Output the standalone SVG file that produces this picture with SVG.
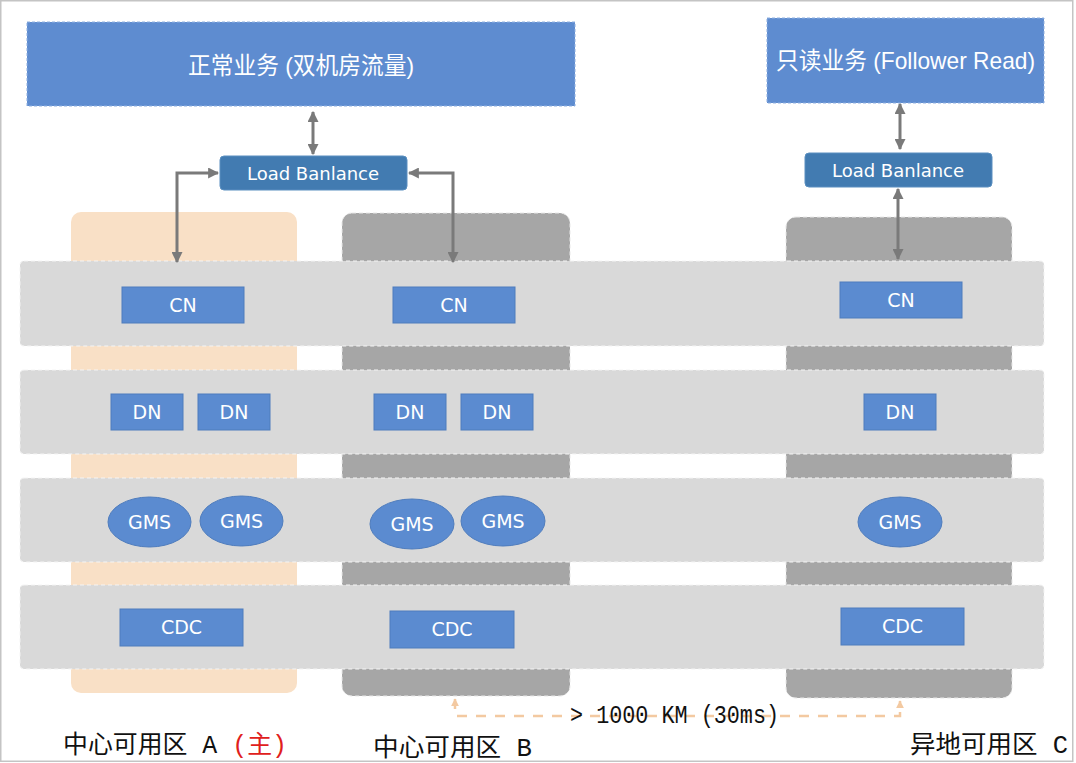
<svg xmlns="http://www.w3.org/2000/svg" width="1076" height="763" viewBox="0 0 1076 763">
<defs>
<style>
.frame{fill:#fff;stroke:#c4c4c4;stroke-width:1.5}
.top{fill:#5e8cd0;stroke:#8fb0e0;stroke-width:1;stroke-dasharray:3 2}
.title{font-family:"Liberation Sans","Noto Sans CJK SC",sans-serif;fill:#fff;font-size:24px}
.lb{fill:#427bb1;stroke:#5a8fc0;stroke-width:1}
.lbt{font-family:"DejaVu Sans",sans-serif;font-size:18px;fill:#fff;text-anchor:middle}
.zoneA{fill:#f9e0c6}
.zoneG{fill:#a6a6a6;stroke:#e8e8e8;stroke-width:1;stroke-dasharray:4 3}
.band{fill:#d9d9d9;stroke:#f4f4f4;stroke-width:1;stroke-dasharray:4 3}
.node{fill:#5b8bd0;stroke:#4e7cbd;stroke-width:1}
.nt{font-family:"DejaVu Sans",sans-serif;font-size:19px;fill:#fff;text-anchor:middle}
.conn{fill:none;stroke:#7a7a7a;stroke-width:3}
.dist{fill:none;stroke:#f3c9a1;stroke-width:2.5;stroke-dasharray:10 9}
.lab{font-family:"Liberation Mono","Noto Sans CJK SC",monospace;font-size:25px;fill:#111}
.distt{font-family:"Liberation Mono",monospace;font-size:26px;fill:#111}
</style>
<marker id="ah" viewBox="0 0 10 10" refX="9" refY="5" markerWidth="11" markerHeight="11" markerUnits="userSpaceOnUse" orient="auto-start-reverse">
<path d="M0,0 L10,5 L0,10 z" fill="#7a7a7a"/>
</marker>
<marker id="ph" viewBox="0 0 10 10" refX="9" refY="5" markerWidth="8" markerHeight="8" markerUnits="userSpaceOnUse" orient="auto-start-reverse">
<path d="M0,0 L10,5 L0,10 z" fill="#f3c9a1"/>
</marker>
</defs>

<rect class="frame" x="0.75" y="0.75" width="1072" height="760.5"/>

<g id="zones">
<rect id="zoneA" class="zoneA" x="71" y="212" width="226" height="481" rx="10"/>
<rect id="zoneB" class="zoneG" x="342" y="213" width="228" height="483" rx="10"/>
<rect id="zoneC" class="zoneG" x="786" y="217" width="226" height="481" rx="10"/>
</g>

<g id="bands">
<rect id="band-cn" class="band" x="20" y="261" width="1024" height="85" rx="4"/>
<rect id="band-dn" class="band" x="20" y="370" width="1024" height="84" rx="4"/>
<rect id="band-gms" class="band" x="20" y="478" width="1024" height="84" rx="4"/>
<rect id="band-cdc" class="band" x="20" y="585" width="1024" height="84" rx="4"/>
</g>

<g id="biz-main">
<rect class="top" x="27" y="22" width="548" height="84"/>
<text class="title" x="188" y="74" textLength="226" lengthAdjust="spacingAndGlyphs">正常业务 (双机房流量)</text>
</g>
<g id="biz-read">
<rect class="top" x="767" y="18" width="277" height="85"/>
<text class="title" x="776" y="69" textLength="259" lengthAdjust="spacingAndGlyphs">只读业务 (Follower Read)</text>
</g>

<g id="lb1">
<rect class="lb" x="220" y="156" width="187" height="34" rx="4"/>
<text class="lbt" x="313" y="180">Load Banlance</text>
</g>
<g id="lb2">
<rect class="lb" x="805" y="153" width="187" height="34" rx="4"/>
<text class="lbt" x="898" y="177">Load Banlance</text>
</g>

<g id="cn-a"><rect class="node" x="122" y="287" width="122" height="36"/><text class="nt" x="183" y="312">CN</text></g>
<g id="cn-b"><rect class="node" x="393" y="287" width="122" height="36"/><text class="nt" x="454" y="312">CN</text></g>
<g id="cn-c"><rect class="node" x="840" y="282" width="122" height="36"/><text class="nt" x="901" y="307">CN</text></g>

<g id="dn-a1"><rect class="node" x="111" y="394" width="72" height="36"/><text class="nt" x="147" y="419">DN</text></g>
<g id="dn-a2"><rect class="node" x="198" y="394" width="72" height="36"/><text class="nt" x="234" y="419">DN</text></g>
<g id="dn-b1"><rect class="node" x="374" y="394" width="72" height="36"/><text class="nt" x="410" y="419">DN</text></g>
<g id="dn-b2"><rect class="node" x="461" y="394" width="72" height="36"/><text class="nt" x="497" y="419">DN</text></g>
<g id="dn-c"><rect class="node" x="864" y="394" width="72" height="36"/><text class="nt" x="900" y="419">DN</text></g>

<g id="gms-a1"><ellipse class="node" cx="149.5" cy="522" rx="41.5" ry="25"/><text class="nt" x="149.5" y="529">GMS</text></g>
<g id="gms-a2"><ellipse class="node" cx="241.5" cy="521" rx="41.5" ry="25"/><text class="nt" x="241.5" y="528">GMS</text></g>
<g id="gms-b1"><ellipse class="node" cx="412" cy="524" rx="42" ry="25"/><text class="nt" x="412" y="531">GMS</text></g>
<g id="gms-b2"><ellipse class="node" cx="503" cy="521" rx="42" ry="25"/><text class="nt" x="503" y="528">GMS</text></g>
<g id="gms-c"><ellipse class="node" cx="900" cy="522" rx="42" ry="25"/><text class="nt" x="900" y="529">GMS</text></g>

<g id="cdc-a"><rect class="node" x="120" y="609" width="123" height="37"/><text class="nt" x="181.5" y="634">CDC</text></g>
<g id="cdc-b"><rect class="node" x="390" y="611" width="124" height="37"/><text class="nt" x="452" y="636">CDC</text></g>
<g id="cdc-c"><rect class="node" x="841" y="608" width="123" height="37"/><text class="nt" x="902.5" y="633">CDC</text></g>

<g id="connectors">
<path class="conn" d="M313,112 L313,154" marker-start="url(#ah)" marker-end="url(#ah)"/>
<path class="conn" d="M218,173 L177,173 L177,262" marker-start="url(#ah)" marker-end="url(#ah)"/>
<path class="conn" d="M409,173 L453,173 L453,262" marker-start="url(#ah)" marker-end="url(#ah)"/>
<path class="conn" d="M900,104 L900,149" marker-start="url(#ah)" marker-end="url(#ah)"/>
<path class="conn" d="M898,189 L898,259" marker-start="url(#ah)" marker-end="url(#ah)"/>
<path class="dist" d="M455,699 L455,716 L900,716 L900,701" marker-start="url(#ph)" marker-end="url(#ph)"/>
</g>

<g id="labels">
<text class="distt" x="570" y="723" textLength="209" lengthAdjust="spacingAndGlyphs">&gt; 1000 KM (30ms)</text>
<text class="lab" x="63" y="753" textLength="224" lengthAdjust="spacingAndGlyphs">中心可用区 A <tspan fill="#e0201b">(主)</tspan></text>
<text class="lab" x="373" y="756" textLength="159" lengthAdjust="spacingAndGlyphs">中心可用区 B</text>
<text class="lab" x="910" y="753" textLength="158" lengthAdjust="spacingAndGlyphs">异地可用区 C</text>
</g>
</svg>
